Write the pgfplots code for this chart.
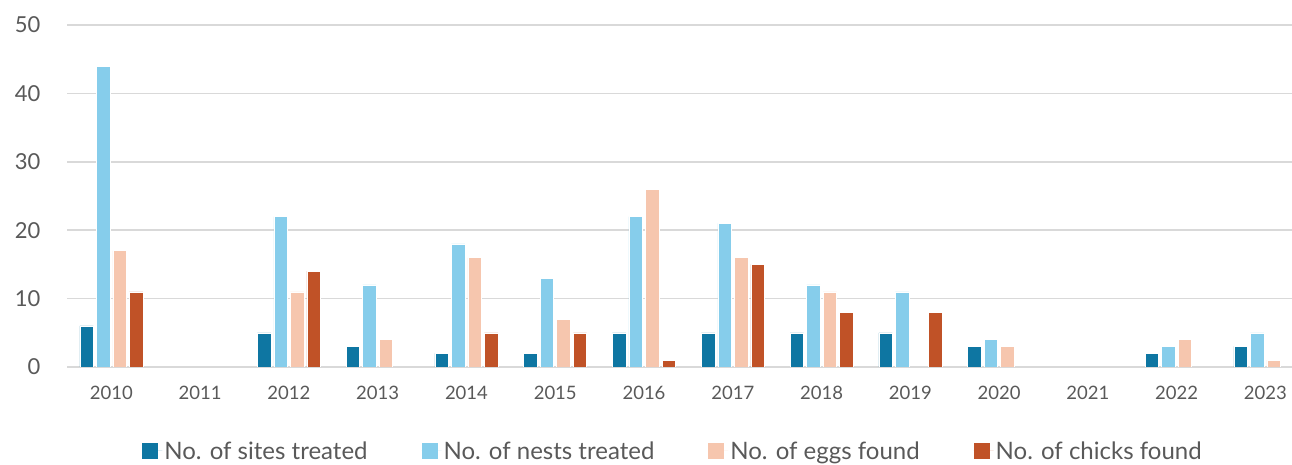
\documentclass[border=0pt]{standalone}
\usepackage{fontspec}
\setmainfont{Lato}
\usepackage{pgfplots}
\pgfplotsset{compat=1.18}
\definecolor{csites}{HTML}{0E76A2}
\definecolor{cnests}{HTML}{86CDEB}
\definecolor{ceggs}{HTML}{F6C6AE}
\definecolor{cchicks}{HTML}{C05227}
\definecolor{txt}{HTML}{595959}
\definecolor{grd}{HTML}{D9D9D9}
\begin{document}
\begin{tikzpicture}
\useasboundingbox (0,0) rectangle (1292pt,465pt);
\begin{axis}[
  at={(67pt,98pt)}, anchor=south west,
  scale only axis, width=1225pt, height=342pt,
  xmin=-0.5, xmax=13.3, ymin=0, ymax=50,
  ytick={0,10,...,50},
  xtick={0,...,13},
  xticklabels={2010,2011,2012,2013,2014,2015,2016,2017,2018,2019,2020,2021,2022,2023},
  ymajorgrids, grid style={grd, line width=1.5pt},
  axis line style={draw=none},
  axis x line*=bottom, axis y line*=left,
  major tick length=0pt,
  /pgf/number format/assume math mode=true,
  yticklabel style={font=\fontsize{22}{24}\selectfont, text=txt, anchor=east, xshift=-23pt},
  xticklabel style={font=\fontsize{18.5}{20}\selectfont, text=txt, yshift=-16pt},
  bar width=0.152,
  legend columns=4,
  legend style={draw=none, fill=none, at={(0.4947,-0.2456)}, anchor=center,
    font=\fontsize{24}{26}\selectfont, text=txt,
    /tikz/every even column/.append style={column sep=52pt}},
  legend image code/.code={\fill[#1, draw=none] (0pt,-8pt) rectangle (16pt,8pt); \path[draw=none] (0pt,0pt) -- (20pt,0pt);},
]
\addplot[ybar, bar shift=-0.279, fill=csites, draw=white, line width=0.5pt] coordinates {
 (0,6) (2,5) (3,3) (4,2) (5,2) (6,5) (7,5) (8,5) (9,5) (10,3) (12,2) (13,3)};
\addlegendentry{No. of sites treated}
\addplot[ybar, bar shift=-0.093, fill=cnests, draw=white, line width=0.5pt] coordinates {
 (0,44) (2,22) (3,12) (4,18) (5,13) (6,22) (7,21) (8,12) (9,11) (10,4) (12,3) (13,5)};
\addlegendentry{No. of nests treated}
\addplot[ybar, bar shift=0.093, fill=ceggs, draw=white, line width=0.5pt] coordinates {
 (0,17) (2,11) (3,4) (4,16) (5,7) (6,26) (7,16) (8,11) (10,3) (12,4) (13,1)};
\addlegendentry{No. of eggs found}
\addplot[ybar, bar shift=0.279, fill=cchicks, draw=white, line width=0.5pt] coordinates {
 (0,11) (2,14) (4,5) (5,5) (6,1) (7,15) (8,8) (9,8)};
\addlegendentry{No. of chicks found}
\end{axis}
\end{tikzpicture}
\end{document}
